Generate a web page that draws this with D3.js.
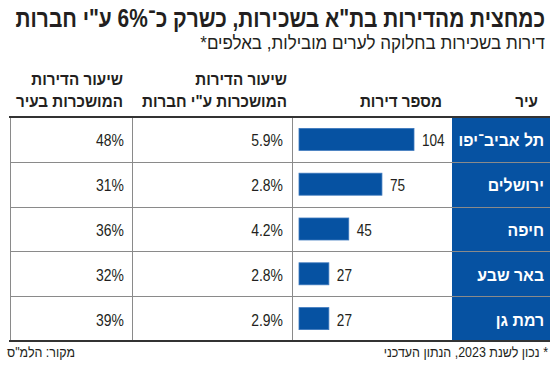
<!DOCTYPE html>
<html>
<head>
<meta charset="utf-8">
<script src="https://cdn.jsdelivr.net/npm/d3@7"></script>
<style>
  body { margin: 0; background: #fff; }
  svg text { font-family: "Liberation Sans", "Noto Sans", sans-serif; fill: #231f20; }
  .title { font-size: 25px; font-weight: bold; }
  .sub { font-size: 19px; }
  .head { font-size: 16px; font-weight: bold; }
  .val { font-size: 17px; }
  .city { font-size: 17px; font-weight: bold; fill: #fff; }
  .foot { font-size: 14px; }
</style>
</head>
<body>
<div id="chart"></div>
<script>
var cities = ["תל אביב־יפו", "ירושלים", "חיפה", "באר שבע", "רמת גן"];
var apartments = [104, 75, 45, 27, 27];
var companyShare = [5.9, 2.8, 4.2, 2.8, 2.9];
var cityShare = [48, 31, 36, 32, 39];

var width = 550, height = 367;
var blue = "#0652a2";

var svg = d3.select('#chart')
  .append('svg')
    .attr('width', width)
    .attr('height', height);

var rows = cities.map(function(c, i) {
  return {city: c, apt: apartments[i], comp: companyShare[i], share: cityShare[i]};
});

var y = d3.scaleBand()
  .domain(cities)
  .range([117, 341]);

var x = d3.scaleLinear()
  .domain([0, 104])
  .range([0, 115]);

// column edges
var colLeft = 10, col3 = 132, colBars = 292, colCity = 452, barX = 299;

// condensed text: anchor at (px,py), squeezed horizontally by s
function put(cls, px, py, s, txt, anchor, rtl) {
  var t = svg.append('text')
    .attr('class', cls)
    .attr('transform', 'translate(' + px + ',' + py + ') scale(' + s + ',1)')
    .style('text-anchor', anchor)
    .text(txt);
  if (rtl) t.attr('direction', 'rtl');
  return t;
}
// fit a right-aligned hebrew line to a given width
function fit(cls, px, py, w, txt) {
  var t = put(cls, px, py, 1, txt, 'start', true);
  var s = w / t.node().getComputedTextLength();
  t.attr('transform', 'translate(' + px + ',' + py + ') scale(' + s + ',1)');
}

fit('title', 545, 27, 530, 'כמחצית מהדירות בת"א בשכירות, כשרק כ־6% ע"י חברות');
fit('sub', 545, 49, 345, 'דירות בשכירות בחלוקה לערים מובילות, באלפים*');

// headers
function header(xr, lines) {
  lines.forEach(function(l, i) {
    put('head', xr, 107 - (lines.length - 1 - i) * 22, 0.95, l, 'start', true);
  });
}
header(538, ['עיר']);
header(442, ['מספר דירות']);
header(287, ['שיעור הדירות', 'המושכרות  ע"י חברות']);
header(123, ['שיעור הדירות', 'המושכרות בעיר']);

// city column background
svg.append('rect')
  .attr('x', colCity).attr('y', y.range()[0])
  .attr('width', width - colCity).attr('height', y.range()[1] - y.range()[0])
  .attr('fill', blue);

// row lines
svg.selectAll('.rowline')
  .data(cities.slice(1))
  .enter().append('line')
    .attr('x1', colLeft).attr('x2', width)
    .attr('y1', function(d) { return Math.round(y(d)) + 0.5; })
    .attr('y2', function(d) { return Math.round(y(d)) + 0.5; })
    .attr('stroke', '#8a8a8a')
    .attr('stroke-width', 1);

// vertical lines
svg.selectAll('.vline')
  .data([colLeft, col3, colBars])
  .enter().append('line')
    .attr('x1', function(d) { return d + 0.5; })
    .attr('x2', function(d) { return d + 0.5; })
    .attr('y1', y.range()[0]).attr('y2', y.range()[1])
    .attr('stroke', '#8a8a8a');

// top & bottom rules
svg.selectAll('.rule')
  .data(y.range())
  .enter().append('line')
    .attr('x1', colLeft - 1).attr('x2', width)
    .attr('y1', function(d) { return d; })
    .attr('y2', function(d) { return d; })
    .attr('stroke', '#333')
    .attr('stroke-width', 2);

var cy = function(d) { return y(d.city) + y.bandwidth() / 2; };

// bars
svg.selectAll('.bar')
  .data(rows)
  .enter().append('rect')
    .attr('x', barX)
    .attr('y', function(d) { return cy(d) - 11; })
    .attr('width', function(d) { return x(d.apt); })
    .attr('height', 22)
    .attr('fill', blue)
    .attr('stroke', '#3c78bd')
    .attr('stroke-width', 0.8);

rows.forEach(function(d) {
  var by = cy(d) + 7;
  put('val', barX + x(d.apt) + 8, by, 0.8, d.apt, 'start', false);
  put('val', 283, by, 0.82, d.comp.toFixed(1) + '%', 'end', false);
  put('val', 124, by, 0.82, d.share + '%', 'end', false);
  put('city', 544, by, 0.93, d.city, 'start', true);
});

// footer
put('foot', 548, 357, 0.89, '* נכון לשנת 2023, הנתון העדכני', 'start', true);
put('foot', 7, 357, 0.89, 'מקור: הלמ"ס', 'end', true);
</script>
</body>
</html>
